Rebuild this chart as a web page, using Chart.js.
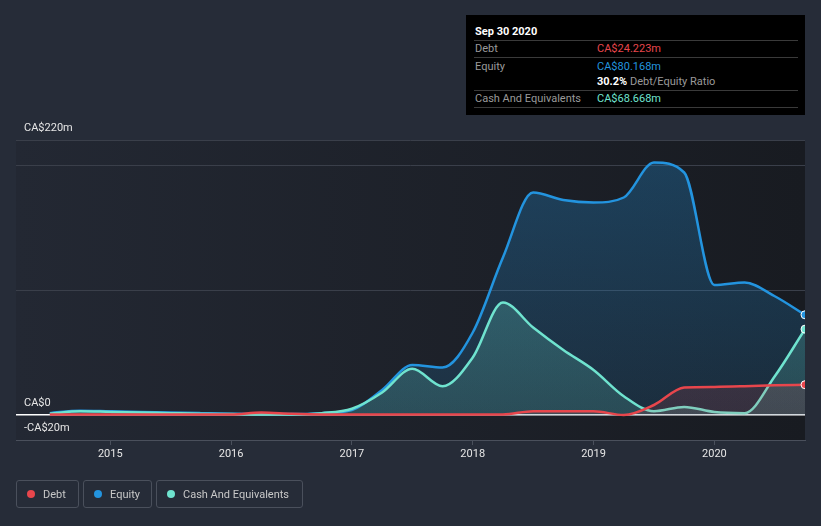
<!DOCTYPE html>
<html>
<head>
<meta charset="utf-8">
<script src="https://cdn.jsdelivr.net/npm/chart.js@4.4.1/dist/chart.umd.min.js"></script>
<style>
  body { margin: 0; background: #262c38; font-family: Roboto, "Noto Sans", sans-serif; }
  #wrap { position: relative; width: 821px; height: 526px; overflow: hidden; }
  #chart { position: absolute; left: 0; top: 0; }
  #tip { position: absolute; left: 466px; top: 15px; width: 339px; height: 100px; background: #000; font-size: 11px; color: #9a9a9a; }
  #tip .title { position: absolute; left: 9px; top: 16px; transform: translateY(-50%); color: #fff; font-weight: bold; font-size: 11px; }
  #tip .sep { position: absolute; left: 8px; right: 7px; height: 1px; background: #3a3a3a; }
  #tip .lbl, #tip .val { position: absolute; transform: translateY(-50%); white-space: nowrap; }
  #tip .lbl { left: 9px; }
  #tip .val { left: 131px; }
  #legend { position: absolute; left: 16px; top: 480px; display: flex; gap: 4px; }
  .item { border: 1px solid #4a505c; border-radius: 3px; display: flex; align-items: center; padding: 0 11px 0 10px; color: #c8c8c8; font-size: 11px; box-sizing: border-box; height: 28px; }
  .dot { width: 8px; height: 8px; border-radius: 50%; margin-right: 8px; }
</style>
</head>
<body>
<div id="wrap">
  <canvas id="chart" width="821" height="526"></canvas>
  <div id="tip">
    <div class="title">Sep 30 2020</div>
    <div class="sep" style="top:25px"></div>
    <div class="lbl" style="top:33px">Debt</div>
    <div class="val" style="top:33px;color:#e8464c">CA$24.223m</div>
    <div class="sep" style="top:42px"></div>
    <div class="lbl" style="top:51px">Equity</div>
    <div class="val" style="top:51px;color:#2394df">CA$80.168m</div>
    <div class="val" style="top:66px"><b style="color:#fff">30.2%</b> Debt/Equity Ratio</div>
    <div class="sep" style="top:75px"></div>
    <div class="lbl" style="top:83px">Cash And Equivalents</div>
    <div class="val" style="top:83px;color:#6fe3cf">CA$68.668m</div>
    <div class="sep" style="top:92px"></div>
  </div>
  <div id="legend">
    <div class="item" style="width:63px"><span class="dot" style="background:#e8464c"></span>Debt</div>
    <div class="item" style="width:69px"><span class="dot" style="background:#2394df"></span>Equity</div>
    <div class="item" style="width:147px"><span class="dot" style="background:#6fe3cf"></span>Cash And Equivalents</div>
  </div>
</div>
<script>
// quarter ends as decimal years (Jun 2014 .. Sep 2020)
var periods = [2014.5, 2014.75, 2015.0, 2015.25, 2015.5, 2015.75, 2016.0, 2016.25, 2016.5, 2016.75,
  2017.0, 2017.25, 2017.5, 2017.75, 2018.0, 2018.25, 2018.5, 2018.75, 2019.0, 2019.25,
  2019.5, 2019.75, 2020.0, 2020.25, 2020.5, 2020.75];

// values in CA$ millions
var debt = [0.5, 0.5, 0.5, 0.5, 0.5, 0.5, 0.5, 2, 1, 0.5,
  0.5, 0.5, 0.5, 0.5, 0.5, 0.5, 3, 3, 3, 0,
  8, 22, 22.5, 23, 23.8, 24.223];
var equity = [1.5, 3.5, 3, 2.5, 2, 1.5, 1, 0.8, 0.8, 1.5,
  4, 20, 40, 38, 66, 126, 178, 172, 170, 174,
  202, 194, 104, 106, 95, 80.168];
var cash = [1, 3, 2.5, 2, 1.5, 1, 0.8, 0.5, 0.5, 1.5,
  5, 18, 37, 23, 46, 90, 70, 52, 36, 15,
  3, 6.5, 2.4, 1.5, 31, 68.668];

var yearTicks = [2015, 2016, 2017, 2018, 2019, 2020];
var yGrid = [-20, 0, 100, 200, 220];
var yLabels = [220, 0, -20];

function pts(arr) {
  return arr.map(function (v, i) { return { x: periods[i], y: v }; });
}

function fillGrad(r, g, b, top, bottom) {
  return function (context) {
    var area = context.chart.chartArea;
    if (!area) return "rgba(" + r + "," + g + "," + b + "," + top + ")";
    var grad = context.chart.ctx.createLinearGradient(0, area.top, 0, area.bottom);
    grad.addColorStop(0, "rgba(" + r + "," + g + "," + b + "," + top + ")");
    grad.addColorStop(1, "rgba(" + r + "," + g + "," + b + "," + bottom + ")");
    return grad;
  };
}

function lastPoint(ctx) {
  return ctx.dataIndex === periods.length - 1 ? 4 : 0;
}

// plot background + y labels
var plotBg = {
  id: "plotBg",
  beforeDraw: function (chart) {
    var a = chart.chartArea, c = chart.ctx;
    var grad = c.createLinearGradient(a.left, 0, a.right, 0);
    grad.addColorStop(0, "#232833");
    grad.addColorStop(1, "#181b21");
    c.save();
    c.fillStyle = grad;
    c.fillRect(a.left, a.top, a.right - a.left, a.bottom - a.top);
    c.restore();
  },
  afterDraw: function (chart) {
    var y = chart.scales.y, c = chart.ctx;
    c.save();
    c.fillStyle = "#e6e6e6";
    c.font = "11px Roboto";
    c.textBaseline = "middle";
    yLabels.forEach(function (v) {
      var txt = (v < 0 ? "-CA$" : "CA$") + Math.abs(v) + (v !== 0 ? "m" : "");
      c.fillText(txt, 24, y.getPixelForValue(v) - 12);
    });
    c.restore();
  }
};

new Chart(document.getElementById("chart"), {
  type: "line",
  data: {
    datasets: [
      {
        label: "Debt",
        data: pts(debt),
        borderColor: "#e8464c",
        backgroundColor: fillGrad(232, 70, 76, 0.25, 0.12),
        fill: "origin",
        borderWidth: 2.5,
        pointRadius: lastPoint,
        pointBackgroundColor: "#e8464c",
        pointBorderColor: "#fff",
        pointBorderWidth: 1,
        cubicInterpolationMode: "monotone"
      },
      {
        label: "Cash And Equivalents",
        data: pts(cash),
        borderColor: "#6fe3cf",
        backgroundColor: fillGrad(111, 227, 207, 0.3, 0.15),
        fill: "origin",
        borderWidth: 2.5,
        pointRadius: lastPoint,
        pointBackgroundColor: "#6fe3cf",
        pointBorderColor: "#fff",
        pointBorderWidth: 1,
        cubicInterpolationMode: "monotone"
      },
      {
        label: "Equity",
        data: pts(equity),
        borderColor: "#2394df",
        backgroundColor: fillGrad(35, 148, 223, 0.3, 0.12),
        fill: "origin",
        borderWidth: 2.5,
        pointRadius: lastPoint,
        pointBackgroundColor: "#2394df",
        pointBorderColor: "#fff",
        pointBorderWidth: 1,
        cubicInterpolationMode: "monotone"
      }
    ]
  },
  options: {
    responsive: false,
    animation: false,
    layout: { padding: { left: 16, right: 16, top: 140, bottom: 0 } },
    plugins: { legend: { display: false }, tooltip: { enabled: false } },
    elements: { line: { clip: 0 } },
    scales: {
      x: {
        type: "linear",
        min: 2014.22,
        max: 2020.75,
        afterBuildTicks: function (scale) {
          scale.ticks = yearTicks.map(function (v) { return { value: v }; });
        },
        afterFit: function (scale) { scale.height = 86; },
        ticks: {
          color: "#e6e6e6",
          font: { family: "Roboto", size: 11 },
          padding: 3,
          maxRotation: 0,
          callback: function (v) { return String(v); }
        },
        grid: { drawOnChartArea: false, drawTicks: true, tickLength: 5, color: "#4a505c" },
        border: { display: true, color: "#4a505c" }
      },
      y: {
        min: -20,
        max: 220,
        afterBuildTicks: function (scale) {
          scale.ticks = yGrid.map(function (v) { return { value: v }; });
        },
        afterFit: function (scale) { scale.width = 0; },
        ticks: { display: false },
        grid: {
          drawTicks: false,
          color: function (ctx) { return ctx.tick && ctx.tick.value === 0 ? "#ffffff" : "#3a3f4a"; },
          lineWidth: function (ctx) { return ctx.tick && ctx.tick.value === 0 ? 1.5 : 1; }
        },
        border: { display: false }
      }
    }
  },
  plugins: [plotBg]
});
</script>
</body>
</html>
